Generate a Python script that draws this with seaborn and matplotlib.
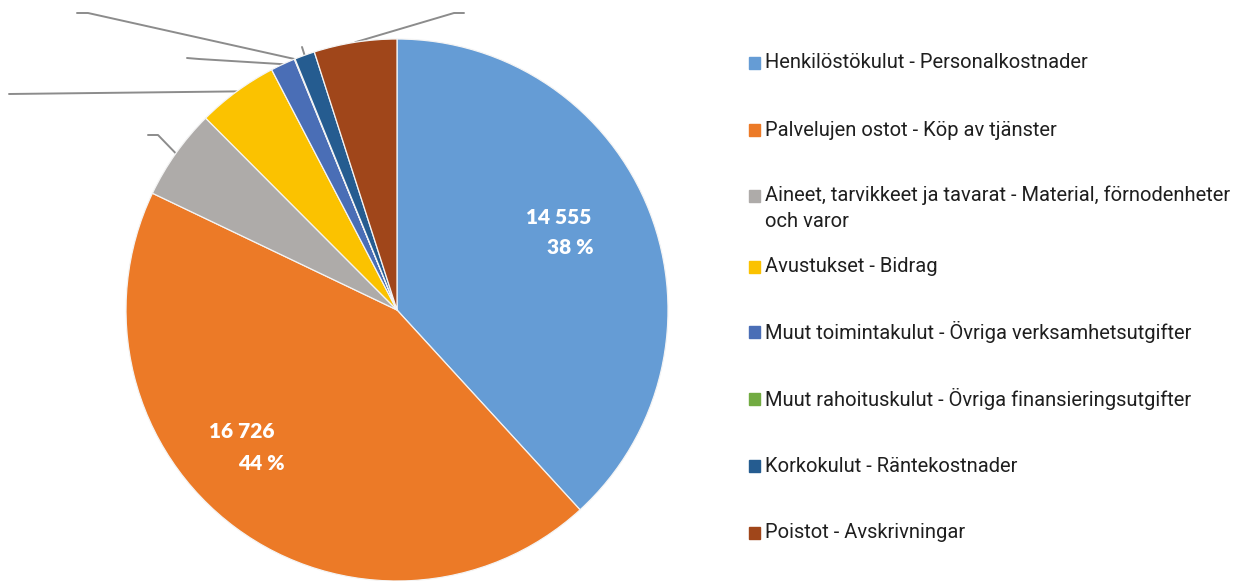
import matplotlib
matplotlib.use("Agg")
import matplotlib.pyplot as plt
import seaborn as sns
from matplotlib.patches import Rectangle
import numpy as np

# data
categories = [
    "Henkilöstökulut - Personalkostnader",
    "Palvelujen ostot - Köp av tjänster",
    "Aineet, tarvikkeet ja tavarat - Material, förnodenheter\noch varor",
    "Avustukset - Bidrag",
    "Muut toimintakulut - Övriga verksamhetsutgifter",
    "Muut rahoituskulut - Övriga finansieringsutgifter",
    "Korkokulut - Räntekostnader",
    "Poistot - Avskrivningar",
]
values = [14555, 16726, 2070, 1840, 560, 15, 460, 1880]
colors = ["#659CD5", "#EC7A27", "#AEABA9", "#FBC200", "#4A6EB6", "#72AB42", "#255C90", "#A0461A"]
shown_labels = [0, 1]  # slices with visible value labels

sns.set_theme(style="white")
plt.rcParams["font.family"] = ["Roboto", "DejaVu Sans"]

W, H = 1254, 581
fig = plt.figure(figsize=(W / 100, H / 100), dpi=100)
cx, cy, R = 397, 310, 271
ax = fig.add_axes([(cx - R) / W, (H - cy - R) / H, 2 * R / W, 2 * R / H])

wedges, _ = ax.pie(values, colors=colors, startangle=90, counterclock=False,
                   radius=1.0, wedgeprops=dict(edgecolor="#F4F4F4", linewidth=0.9))
ax.set_xlim(-1, 1)
ax.set_ylim(-1, 1)
ax.set_aspect("equal")
ax.axis("off")


def px2d(px, py):
    return (px - cx) / R, (cy - py) / R


total = sum(values)
# (value line, percent line) centres in pixels
label_pos = {0: [(559, 218), (570, 248)], 1: [(242, 432), (261, 464)]}
for i in shown_labels:
    v = values[i]
    lines = [f"{v:,}".replace(",", " "), f"{round(v / total * 100)} %"]
    for txt, p in zip(lines, label_pos[i]):
        x, y = px2d(*p)
        ax.text(x, y, txt, ha="center", va="center", color="white", fontsize=15,
                fontweight="heavy", family=["Lato", "DejaVu Sans"])

# leader lines for the small slices (labels fall outside the view)
leaders = {
    2: [(158, 135), (148, 135)],
    3: [(9, 94)],
    4: [(199, 59), (187, 58)],
    5: [(88, 13), (77, 13)],
    6: [(302, 47)],
    7: [(454, 13), (464, 13)],
}
for i, pts in leaders.items():
    w = wedges[i]
    ang = np.deg2rad((w.theta1 + w.theta2) / 2)
    xs = [np.cos(ang)]
    ys = [np.sin(ang)]
    for p in pts:
        x, y = px2d(*p)
        xs.append(x)
        ys.append(y)
    ax.plot(xs, ys, color="#8C8C8C", lw=1.4, clip_on=False, zorder=0)

# legend
leg_y = [63, 130, 196, 267, 332, 399, 466, 533]
for lab, col, y in zip(categories, colors, leg_y):
    fig.patches.append(Rectangle((749 / W, (H - y - 6) / H), 11 / W, 12 / H,
                                 transform=fig.transFigure, color=col))
    if "\n" in lab:
        fig.text(765 / W, (H - y + 11) / H, lab, ha="left", va="top",
                 fontsize=14.5, color="#1F1F1F", linespacing=1.5)
    else:
        fig.text(765 / W, (H - y) / H, lab, ha="left", va="center",
                 fontsize=14.5, color="#1F1F1F")

fig.savefig("out.png", dpi=100)
